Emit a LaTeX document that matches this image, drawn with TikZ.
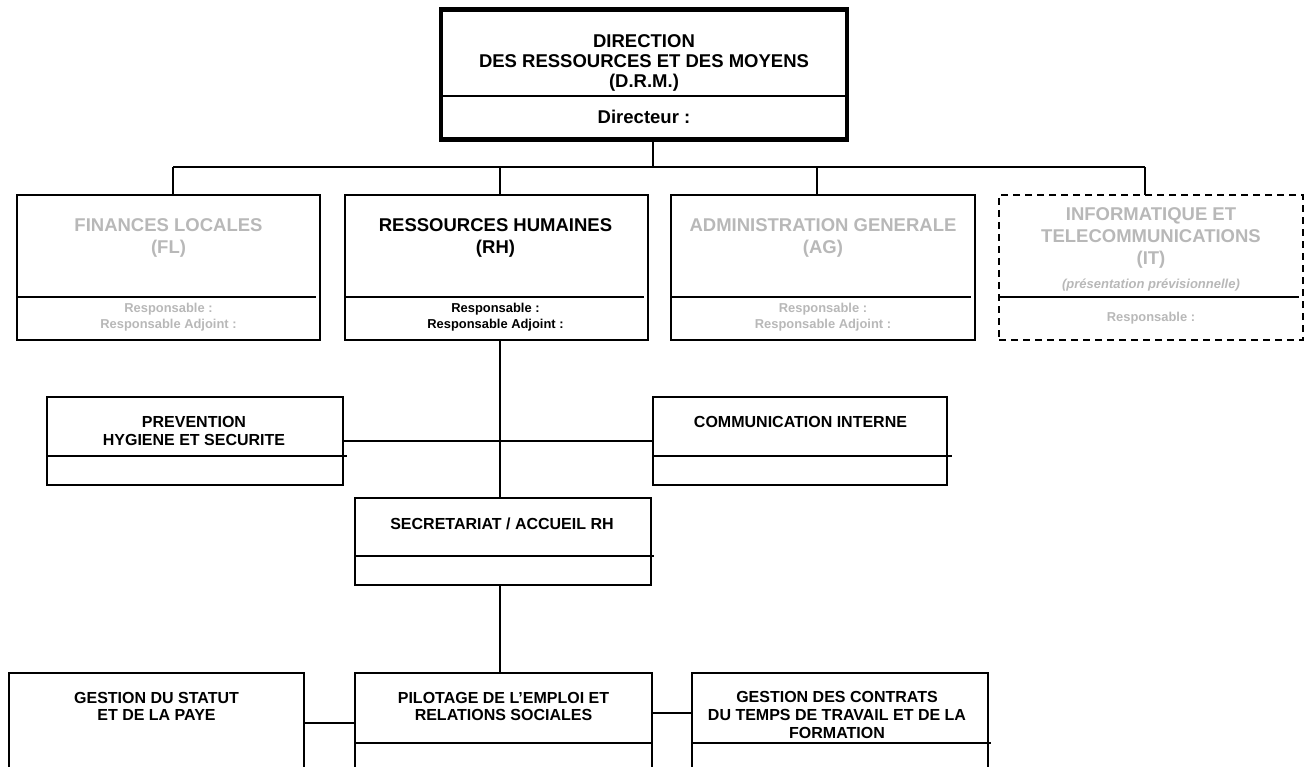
\documentclass[tikz,border=0pt]{standalone}
\usepackage{fontspec}
\setmainfont{Liberation Sans}
\usetikzlibrary{calc}
\definecolor{ghost}{gray}{0.72}
\tikzset{
  box/.style={draw=black, line width=1.3pt, rectangle, anchor=north west, inner sep=0pt, outer sep=0pt},
  bigbox/.style={box, line width=4.6pt},
  dashbox/.style={box, line width=1.5pt, dash pattern=on 7pt off 5pt},
  divider/.style={line width=2pt},
  conn/.style={line width=1.7pt},
  tbig/.style={font=\fontsize{18.5}{20}\selectfont\bfseries, anchor=base, inner sep=0pt},
  tmid/.style={font=\fontsize{16}{18}\selectfont\bfseries, anchor=base, inner sep=0pt},
  tsmall/.style={font=\fontsize{12.9}{15}\selectfont\bfseries, anchor=base, inner sep=0pt},
  tital/.style={font=\fontsize{13}{15}\selectfont\bfseries\itshape, anchor=base, inner sep=0pt},
}
\begin{document}
\begin{tikzpicture}[x=1pt,y=-1pt]
\useasboundingbox (0,0) rectangle (1311,767);
\clip (0,0) rectangle (1311,767);

% ---------- boxes ----------
\node[bigbox, minimum width=406, minimum height=130] (drm) at (441,9.5) {};
\node[box, minimum width=303, minimum height=145] (fl) at (17,195) {};
\node[box, minimum width=303, minimum height=145] (rh) at (345,195) {};
\node[box, minimum width=304, minimum height=145] (ag) at (671,195) {};
\node[dashbox, minimum width=304, minimum height=145] (it) at (999,195) {};
\node[box, minimum width=296, minimum height=88] (prev) at (47,397) {};
\node[box, minimum width=294, minimum height=88] (comm) at (653,397) {};
\node[box, minimum width=296, minimum height=87] (sec) at (355,498) {};
\node[box, minimum width=295, minimum height=150] (gs) at (9,673) {};
\node[box, minimum width=297, minimum height=150] (pil) at (355,673) {};
\node[box, minimum width=296, minimum height=150] (ct) at (692,673) {};

% ---------- dividers ----------
\draw[line width=1.3pt] ($(drm.north west)+(0,86.5)$) -- ($(drm.north east)+(0,86.5)$);
\draw[divider] ($(fl.north west)+(0,102)$) -- ($(fl.north east)+(-4,102)$);
\draw[divider] ($(rh.north west)+(0,102)$) -- ($(rh.north east)+(-4,102)$);
\draw[divider] ($(ag.north west)+(0,102)$) -- ($(ag.north east)+(-4,102)$);
\draw[divider] ($(it.north west)+(0,102)$) -- ($(it.north east)+(-4,102)$);
\draw[divider] ($(prev.north west)+(0,59)$) -- ($(prev.north east)+(4,59)$);
\draw[divider] ($(comm.north west)+(0,59)$) -- ($(comm.north east)+(5,59)$);
\draw[divider] ($(sec.north west)+(0,58)$) -- ($(sec.north east)+(3,58)$);
\draw[divider] ($(pil.north west)+(0,70)$) -- ($(pil.north east)+(1,70)$);
\draw[divider] ($(ct.north west)+(0,70)$) -- ($(ct.north east)+(3,70)$);

% ---------- connectors ----------
\coordinate (jfl) at (173,167);
\coordinate (jrh) at (500,167);
\coordinate (jdrm) at (653,167);
\coordinate (jag) at (817,167);
\coordinate (jit) at (1145,167);
\draw[conn] (jdrm |- drm.south) -- (jdrm);
\draw[conn] (jfl) -- (jit);
\draw[conn] (jfl) -- (jfl |- fl.north);
\draw[conn] (jrh) -- (jrh |- rh.north);
\draw[conn] (jag) -- (jag |- ag.north);
\draw[conn] (jit) -- (jit |- it.north);
\draw[conn] (jrh |- rh.south) -- (jrh |- sec.north);
\draw[conn] (prev.east) -- (comm.west);
\draw[conn] (jrh |- sec.south) -- (jrh |- pil.north);
\draw[conn] ($(gs.north east)+(0,50)$) -- ($(pil.north west)+(0,50)$);
\draw[conn] ($(pil.north east)+(0,40)$) -- ($(ct.north west)+(0,40)$);

% ---------- texts ----------
\node[tbig] (drm1) at (644,48) {DIRECTION};
\node[tbig] (drm2) at (644,68) {DES RESSOURCES ET DES MOYENS};
\node[tbig] (drm3) at (644,88) {(D.R.M.)};
\node[tbig] (drm4) at (644,124) {Directeur :};

\node[tbig, text=ghost] (fl1) at (168.5,232) {FINANCES LOCALES};
\node[tbig, text=ghost] (fl2) at (168.5,254) {(FL)};
\node[tsmall, text=ghost] (fl3) at (168.5,312) {Responsable :};
\node[tsmall, text=ghost] (fl4) at (168.5,328) {Responsable Adjoint :};

\node[tbig] (rh1) at (495.5,232) {RESSOURCES HUMAINES};
\node[tbig] (rh2) at (495.5,254) {(RH)};
\node[tsmall] (rh3) at (495.5,312) {Responsable :};
\node[tsmall] (rh4) at (495.5,328) {Responsable Adjoint :};

\node[tbig, text=ghost] (ag1) at (823,232) {ADMINISTRATION GENERALE};
\node[tbig, text=ghost] (ag2) at (823,254) {(AG)};
\node[tsmall, text=ghost] (ag3) at (823,312) {Responsable :};
\node[tsmall, text=ghost] (ag4) at (823,328) {Responsable Adjoint :};

\node[tbig, text=ghost] (it1) at (1151,221) {INFORMATIQUE ET};
\node[tbig, text=ghost] (it2) at (1151,243) {TELECOMMUNICATIONS};
\node[tbig, text=ghost] (it3) at (1151,265) {(IT)};
\node[tital, text=ghost] (it4) at (1151,288) {(présentation prévisionnelle)};
\node[tsmall, text=ghost] (it5) at (1151,321) {Responsable :};

\node[tmid] (pv1) at (194,427) {PREVENTION};
\node[tmid] (pv2) at (194,445) {HYGIENE ET SECURITE};
\node[tmid] (cm1) at (800.5,427) {COMMUNICATION INTERNE};
\node[tmid] (sc1) at (502,529) {SECRETARIAT / ACCUEIL RH};

\node[tmid] (gs1) at (156.5,703) {GESTION DU STATUT};
\node[tmid] (gs2) at (156.5,720) {ET DE LA PAYE};
\node[tmid] (pl1) at (503.5,703) {PILOTAGE DE L’EMPLOI ET};
\node[tmid] (pl2) at (503.5,720) {RELATIONS SOCIALES};
\node[tmid] (ct1) at (837,702) {GESTION DES CONTRATS};
\node[tmid] (ct2) at (837,720) {DU TEMPS DE TRAVAIL ET DE LA};
\node[tmid] (ct3) at (837,738) {FORMATION};
\end{tikzpicture}
\end{document}
